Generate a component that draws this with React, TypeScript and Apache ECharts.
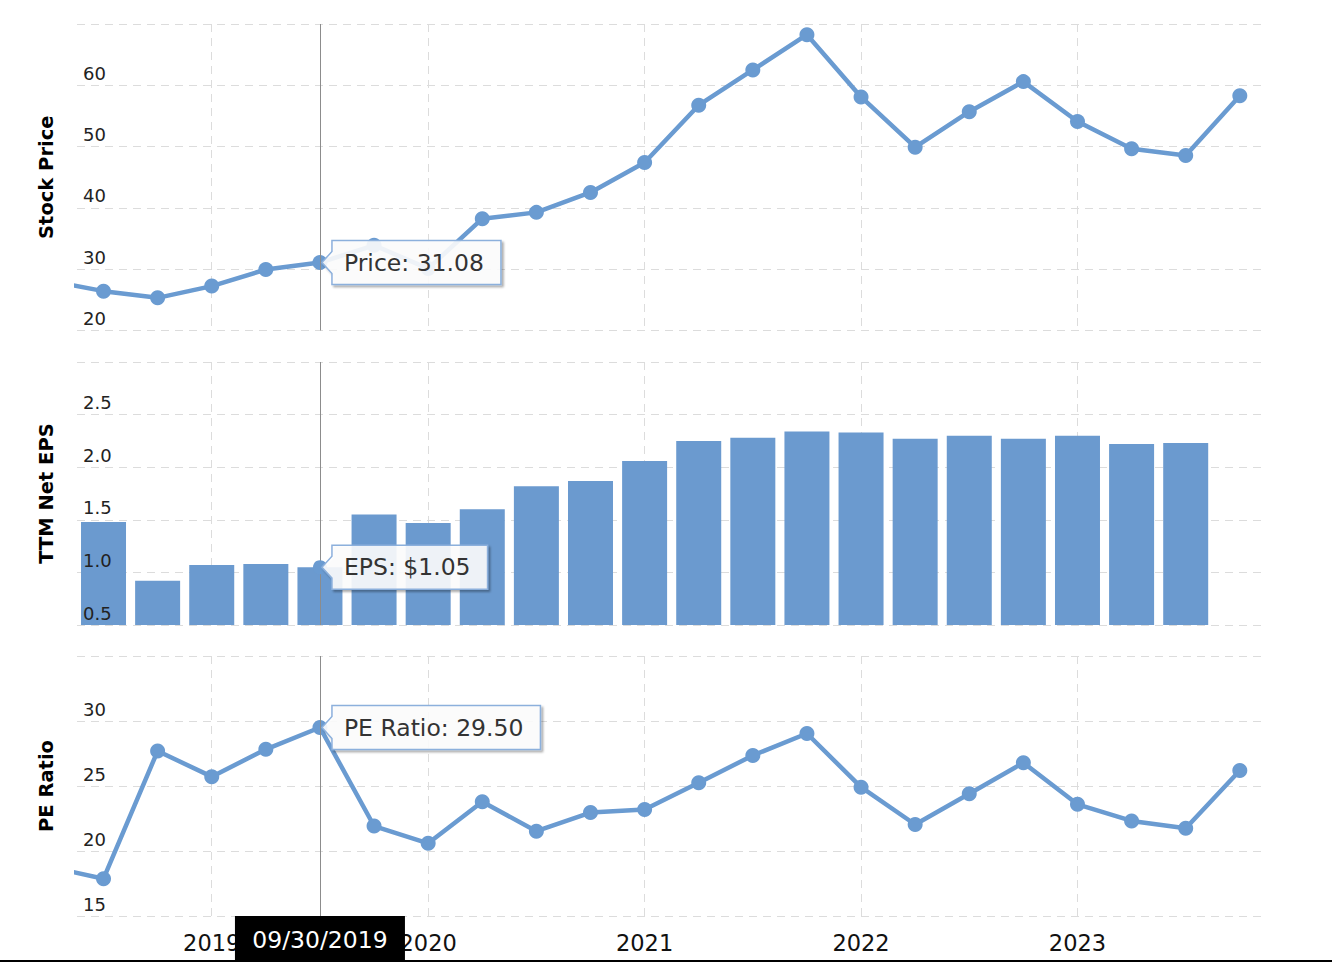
import React, { useEffect, useRef } from "react";
import * as echarts from "echarts";

// Quarter-end dates; the first one lies just left of the visible range
const quarters = [
  "06/30/2018", "09/30/2018", "12/31/2018", "03/31/2019", "06/30/2019", "09/30/2019",
  "12/31/2019", "03/31/2020", "06/30/2020", "09/30/2020", "12/31/2020", "03/31/2021",
  "06/30/2021", "09/30/2021", "12/31/2021", "03/31/2022", "06/30/2022", "09/30/2022",
  "12/31/2022", "03/31/2023", "06/30/2023", "09/30/2023", "12/31/2023",
];
const stockPrice = [
  28.1, 26.42, 25.33, 27.24, 29.95, 31.08, 33.9, 30.1, 38.24, 39.27, 42.52, 47.4,
  56.75, 62.5, 68.25, 58.1, 49.9, 55.7, 60.6, 54.1, 49.65, 48.55, 58.3,
];
const ttmEps = [
  null, 1.48, 0.92, 1.07, 1.08, 1.05, 1.55, 1.47, 1.6, 1.82, 1.87, 2.06,
  2.25, 2.28, 2.34, 2.33, 2.27, 2.3, 2.27, 2.3, 2.22, 2.23, null,
];
const peRatio = [
  18.77, 17.87, 27.69, 25.72, 27.82, 29.5, 21.92, 20.59, 23.79, 21.52, 22.96, 23.19,
  25.25, 27.35, 29.04, 24.91, 22.04, 24.4, 26.79, 23.59, 22.31, 21.75, 26.19,
];
const yearTickDates = ["03/31/2019", "03/31/2020", "03/31/2021", "03/31/2022", "03/31/2023"];
const hoverDate = "09/30/2019";

const BLUE = "#6a9bd1";
const BAR = "#6b9acf";
const FONT = '"DejaVu Sans", Verdana, sans-serif';

const pos = (i: number) => i - 1; // x position of quarter i

function measure(text: string, font: string) {
  const c = document.createElement("canvas").getContext("2d")!;
  c.font = font;
  return c.measureText(text).width;
}

export default function App() {
  const ref = useRef<HTMLDivElement>(null);
  useEffect(() => {
    if (!ref.current) return;
    const chart = echarts.init(ref.current, null, { renderer: "svg" });
    const yearTicks = yearTickDates.map((d) => pos(quarters.indexOf(d)));
    const hi = quarters.indexOf(hoverDate);
    const hx = pos(hi);
    const xMin = -0.49;
    const xMax = 21.41;

    const dash = { color: "#dcdcdc", width: 1, type: [8, 6] as any };

    const makeX = (gridIndex: number, showLabel: boolean) => ({
      type: "value",
      gridIndex,
      min: xMin,
      max: xMax,
      axisLine: { show: false },
      axisTick: { show: false, customValues: yearTicks },
      splitLine: { show: true, lineStyle: dash },
      axisLabel: {
        show: showLabel,
        customValues: yearTicks,
        formatter: (v: number) => quarters[Math.round(v) + 1].slice(-4),
        fontSize: 22.5,
        fontFamily: FONT,
        color: "#111",
        margin: 15,
      },
    });

    // grid axis: only split lines, drawn beneath the series
    const gridY = (gridIndex: number, min: number, max: number, interval: number) => ({
      type: "value",
      gridIndex,
      position: "left",
      min,
      max,
      interval,
      z: 0,
      axisLine: { show: false },
      axisTick: { show: false },
      splitLine: { show: true, lineStyle: dash },
      axisLabel: { show: false },
    });

    // label axis: same scale, labels and name drawn above the series
    const labelY = (gridIndex: number, name: string, min: number, max: number, interval: number, dec: number) => ({
      type: "value",
      gridIndex,
      position: "left",
      offset: 0,
      min,
      max,
      interval,
      z: 10,
      name,
      nameLocation: "middle",
      nameGap: 21,
      nameTextStyle: { fontSize: 19.5, fontWeight: "bold", fontFamily: FONT, color: "#000" },
      axisLine: { show: false, onZero: false },
      axisTick: { show: false },
      splitLine: { show: false },
      axisLabel: {
        inside: true,
        margin: 6,
        showMaxLabel: false,
        verticalAlign: "bottom",
        lineHeight: 24,
        fontSize: 18,
        fontFamily: FONT,
        color: "#222",
        formatter: (v: number) => v.toFixed(dec),
      },
    });

    const crossLine = {
      silent: true,
      symbol: ["none", "none"],
      label: { show: false },
      lineStyle: { color: "#8c8c8c", width: 1, type: "solid" },
      data: [{ xAxis: hx }],
    };

    chart.setOption({
      animation: false,
      grid: [
        { left: 77, right: 70, top: 24, height: 306.5 },
        { left: 77, right: 70, top: 362, height: 263 },
        { left: 77, right: 70, top: 656, height: 260 },
      ],
      xAxis: [makeX(0, false), makeX(1, false), makeX(2, true)],
      yAxis: [
        gridY(0, 20, 70, 10),
        gridY(1, 0.5, 3.0, 0.5),
        gridY(2, 15, 35, 5),
        labelY(0, "Stock Price", 20, 70, 10, 0),
        labelY(1, "TTM Net EPS", 0.5, 3.0, 0.5, 1),
        labelY(2, "PE Ratio", 15, 35, 5, 0),
      ],
      series: [
        {
          type: "line",
          xAxisIndex: 0,
          yAxisIndex: 0,
          data: stockPrice.map((v, i) => [pos(i), v]),
          clip: true,
          symbol: "circle",
          symbolSize: 15,
          lineStyle: { color: BLUE, width: 4.5 },
          itemStyle: { color: BLUE },
          markLine: crossLine,
        },
        {
          type: "bar",
          xAxisIndex: 1,
          yAxisIndex: 1,
          data: ttmEps.map((v, i) => [pos(i), v]),
          barWidth: 45,
          clip: true,
          itemStyle: { color: BAR },
          markLine: crossLine,
        },
        {
          type: "line",
          xAxisIndex: 2,
          yAxisIndex: 2,
          data: peRatio.map((v, i) => [pos(i), v]),
          clip: true,
          symbol: "circle",
          symbolSize: 15,
          lineStyle: { color: BLUE, width: 4.5 },
          itemStyle: { color: BLUE },
          markLine: crossLine,
        },
      ],
    });

    const tipFont = `23.5px "DejaVu Sans"`;
    const callout = (gridIndex: number, value: number, text: string) => {
      const [px, py] = chart.convertToPixel({ xAxisIndex: gridIndex, yAxisIndex: gridIndex } as any, [hx, value]) as number[];
      const bx = px + 12;
      const top = py - 22;
      const h = 44;
      const w = measure(text, tipFont) + 29;
      return [
        {
          type: "polygon",
          z: 100,
          shape: {
            points: [
              [bx, top], [bx + w, top], [bx + w, top + h], [bx, top + h],
              [bx, py + 11], [px + 2, py], [bx, py - 11],
            ],
          },
          style: {
            fill: "rgba(255,255,255,0.88)",
            stroke: "#8cb0dc",
            lineWidth: 1.5,
            shadowColor: "rgba(0,0,0,0.35)",
            shadowOffsetX: 2,
            shadowOffsetY: 2,
            shadowBlur: 2,
          },
        },
        {
          type: "text",
          z: 101,
          x: bx + 12,
          y: py,
          style: {
            text,
            font: tipFont,
            fill: "#333",
            verticalAlign: "middle",
            align: "left",
          },
        },
      ];
    };

    const [epsX, epsY] = chart.convertToPixel({ xAxisIndex: 1, yAxisIndex: 1 } as any, [hx, ttmEps[hi] as number]) as number[];
    const [dateX, gridBottom] = chart.convertToPixel({ xAxisIndex: 2, yAxisIndex: 2 } as any, [hx, 15]) as number[];

    chart.setOption({
      graphic: [
        ...callout(0, stockPrice[hi], `Price: ${stockPrice[hi].toFixed(2)}`),
        { type: "circle", z: 99, shape: { cx: epsX, cy: epsY, r: 7 }, style: { fill: BLUE } },
        ...callout(1, ttmEps[hi] as number, `EPS: $${(ttmEps[hi] as number).toFixed(2)}`),
        ...callout(2, peRatio[hi], `PE Ratio: ${peRatio[hi].toFixed(2)}`),
        {
          type: "rect",
          z: 100,
          shape: { x: dateX - 85, y: gridBottom, width: 170, height: 46 },
          style: { fill: "#000" },
        },
        {
          type: "text",
          z: 101,
          x: dateX,
          y: gridBottom + 24,
          style: {
            text: hoverDate,
            font: tipFont,
            fill: "#fff",
            align: "center",
            verticalAlign: "middle",
          },
        },
        {
          type: "rect",
          z: 100,
          shape: { x: 0, y: 960, width: 1332, height: 2 },
          style: { fill: "#000" },
        },
      ],
    });

    return () => chart.dispose();
  }, []);

  return (
    <div
      ref={ref}
      style={{ position: "fixed", left: 0, top: 0, width: 1332, height: 962, background: "#fff" }}
    />
  );
}
